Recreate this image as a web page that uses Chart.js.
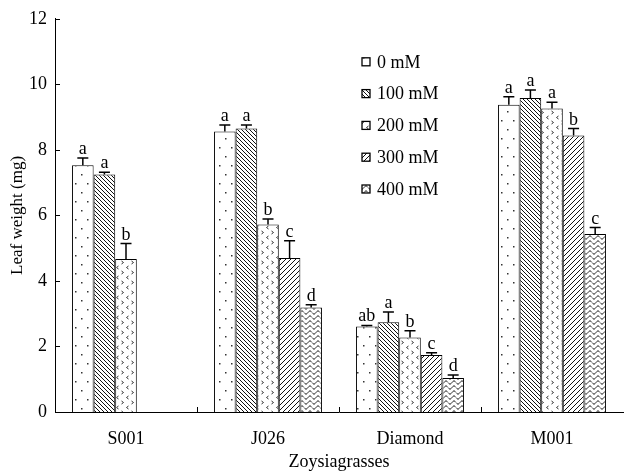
<!DOCTYPE html>
<html>
<head>
<meta charset="utf-8">
<script src="https://cdn.jsdelivr.net/npm/chart.js@4.4.1/dist/chart.umd.min.js"></script>
<style>
  html, body { margin: 0; padding: 0; background: #fff; }
  #chart { display: block; }
</style>
</head>
<body>
<canvas id="chart" width="625" height="476"></canvas>
<script>
// data
const grasses = ['S001', 'J026', 'Diamond', 'M001'];
const treatments = ['0 mM', '100 mM', '200 mM', '300 mM', '400 mM'];

const mean0 = [7.53, 8.56, 2.61, 9.38];
const mean100 = [7.25, 8.65, 2.74, 9.58];
const mean200 = [4.67, 5.72, 2.27, 9.26];
const mean300 = [null, 4.70, 1.74, 8.44];
const mean400 = [null, 3.19, 1.04, 5.43];

const err0 = [0.22, 0.20, 0.03, 0.24];
const err100 = [0.07, 0.11, 0.31, 0.25];
const err200 = [0.47, 0.17, 0.21, 0.19];
const err300 = [null, 0.53, 0.07, 0.21];
const err400 = [null, 0.08, 0.09, 0.20];

const sig0 = ['a', 'a', 'ab', 'a'];
const sig100 = ['a', 'a', 'a', 'a'];
const sig200 = ['b', 'b', 'b', 'a'];
const sig300 = ['', 'c', 'c', 'b'];
const sig400 = ['', 'd', 'd', 'c'];

const yTicks = [0, 2, 4, 6, 8, 10, 12];

const serif = '"Liberation Serif", "Times New Roman", serif';
const fontSize = 18;

// fill patterns
function makeTile(w, h, draw) {
    const c = document.createElement('canvas');
    c.width = w;
    c.height = h;
    const g = c.getContext('2d');
    g.fillStyle = '#fff';
    g.fillRect(0, 0, w, h);
    draw(g, w, h);
    return document.getElementById('chart').getContext('2d').createPattern(c, 'repeat');
}

const dots = makeTile(12, 18, (g) => {
    g.fillStyle = '#333';
    g.fillRect(3, 3, 1.5, 1.5);
    g.fillRect(9, 12, 1.5, 1.5);
});

const backHatch = makeTile(4, 4, (g, s) => {
    g.strokeStyle = '#111';
    g.lineWidth = 1;
    for (let k = -1; k <= 1; k++) {
        g.beginPath();
        g.moveTo(k * s, 0);
        g.lineTo(k * s + s, s);
        g.stroke();
    }
});

const chevrons = makeTile(10, 10, (g) => {
    g.strokeStyle = '#333';
    g.lineWidth = 1;
    g.beginPath();
    g.moveTo(1.5, 1); g.lineTo(3.5, 2.5); g.lineTo(1.5, 4);
    g.stroke();
    g.beginPath();
    g.moveTo(8.5, 6); g.lineTo(6.5, 7.5); g.lineTo(8.5, 9);
    g.stroke();
});

const fwdHatch = makeTile(5, 5, (g, s) => {
    g.strokeStyle = '#111';
    g.lineWidth = 1;
    for (let k = -1; k <= 1; k++) {
        g.beginPath();
        g.moveTo(k * s, s);
        g.lineTo(k * s + s, 0);
        g.stroke();
    }
});

const waves = makeTile(8, 5, (g, w) => {
    g.strokeStyle = '#111';
    g.lineWidth = 1;
    g.beginPath();
    for (let x = 0; x <= w; x += 0.5) {
        const y = 2.5 + 1.6 * Math.sin(2 * Math.PI * x / w);
        if (x === 0) g.moveTo(x, y); else g.lineTo(x, y);
    }
    g.stroke();
});

const fills = [dots, backHatch, chevrons, fwdHatch, waves];
const means = [mean0, mean100, mean200, mean300, mean400];
const errs = [err0, err100, err200, err300, err400];
const sigs = [sig0, sig100, sig200, sig300, sig400];

const datasets = treatments.map((t, i) => ({
    label: t,
    data: means[i],
    err: errs[i],
    sig: sigs[i],
    backgroundColor: fills[i],
    borderColor: '#000',
    borderWidth: 1,
    borderSkipped: 'bottom',
    categoryPercentage: 0.76,
    barPercentage: 1
}));

// error bars, letters, inward ticks and the legend
const extras = {
    id: 'extras',
    afterDatasetsDraw(chart) {
        const ctx = chart.ctx;
        const y = chart.scales.y;
        const x = chart.scales.x;
        const area = chart.chartArea;
        ctx.save();
        chart.data.datasets.forEach((ds, di) => {
            const meta = chart.getDatasetMeta(di);
            meta.data.forEach((bar, i) => {
                const v = ds.data[i];
                if (v === null) return;
                const top = y.getPixelForValue(v + ds.err[i]);
                ctx.strokeStyle = '#000';
                ctx.lineWidth = 1.5;
                ctx.beginPath();
                ctx.moveTo(bar.x, bar.y);
                ctx.lineTo(bar.x, top);
                ctx.moveTo(bar.x - 5.5, top);
                ctx.lineTo(bar.x + 5.5, top);
                ctx.stroke();
                ctx.fillStyle = '#000';
                ctx.font = fontSize + 'px ' + serif;
                ctx.textAlign = 'center';
                ctx.textBaseline = 'alphabetic';
                ctx.fillText(ds.sig[i], bar.x, top - 4);
            });
        });

        // inward tick marks
        ctx.strokeStyle = '#000';
        ctx.lineWidth = 1;
        ctx.beginPath();
        yTicks.forEach((t) => {
            const py = Math.round(y.getPixelForValue(t)) + 0.5;
            ctx.moveTo(area.left, py);
            ctx.lineTo(area.left + 5, py);
        });
        for (let i = 1; i < grasses.length; i++) {
            const px = Math.round((x.getPixelForValue(i - 1) + x.getPixelForValue(i)) / 2) + 0.5;
            ctx.moveTo(px, area.bottom);
            ctx.lineTo(px, area.bottom - 5);
        }
        ctx.stroke();

        // legend inside the plot
        const lx = area.left + 307;
        const ly0 = area.top + 43;
        chart.data.datasets.forEach((ds, di) => {
            const cy = ly0 + di * 31.8;
            ctx.fillStyle = ds.backgroundColor;
            ctx.fillRect(lx, cy - 4, 8, 8);
            ctx.strokeStyle = '#000';
            ctx.lineWidth = 1.3;
            ctx.strokeRect(lx, cy - 4, 8, 8);
            ctx.fillStyle = '#000';
            ctx.font = fontSize + 'px ' + serif;
            ctx.textAlign = 'left';
            ctx.textBaseline = 'middle';
            ctx.fillText(ds.label, lx + 15, cy + 1);
        });
        ctx.restore();
    }
};

const chart = new Chart(document.getElementById('chart'), {
    type: 'bar',
    data: { labels: grasses, datasets: datasets },
    options: {
        responsive: false,
        animation: false,
        layout: { padding: { top: 13, right: 2, left: 0, bottom: 0 } },
        plugins: {
            legend: { display: false },
            tooltip: { enabled: false }
        },
        scales: {
            x: {
                grid: { display: false, drawTicks: false },
                border: { display: true, color: '#000', width: 1 },
                ticks: {
                    color: '#000',
                    font: { family: serif, size: fontSize },
                    padding: 16
                },
                title: {
                    display: true,
                    text: 'Zoysiagrasses',
                    color: '#000',
                    font: { family: serif, size: fontSize },
                    padding: { top: 0, bottom: 3 }
                },
                afterFit(scale) { scale.height = 64; }
            },
            y: {
                min: 0,
                max: 12,
                afterBuildTicks(scale) {
                    scale.ticks = yTicks.map((v) => ({ value: v }));
                },
                grid: { display: false, drawTicks: false },
                border: { display: true, color: '#000', width: 1 },
                ticks: {
                    color: '#000',
                    font: { family: serif, size: fontSize },
                    padding: 8
                },
                title: {
                    display: true,
                    text: 'Leaf weight (mg)',
                    color: '#000',
                    font: { family: serif, size: 17 },
                    padding: { top: 7, bottom: 0 }
                },
                afterFit(scale) { scale.width = 55; }
            }
        }
    },
    plugins: [extras]
});
</script>
</body>
</html>
